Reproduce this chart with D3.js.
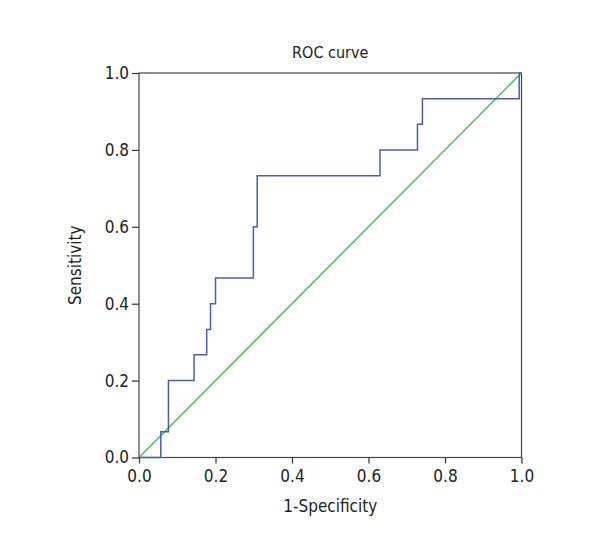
<!DOCTYPE html>
<html>
<head>
<meta charset="utf-8">
<script src="https://cdn.jsdelivr.net/npm/d3@7"></script>
<style>
  body { margin: 0; background: #fff; }
  text { font-family: "DejaVu Sans Condensed", "DejaVu Sans", sans-serif; font-stretch: condensed; fill: #222; }
</style>
</head>
<body>
<svg id="chart" width="600" height="560"></svg>
<script>
// ROC curve step points (1-Specificity, Sensitivity)
const fpr = [0, 0.057, 0.077, 0.144, 0.177, 0.187, 0.200, 0.299, 0.309, 0.630, 0.728, 0.741, 0.994, 1.0];
const tpr = [0, 0.067, 0.200, 0.267, 0.333, 0.400, 0.467, 0.600, 0.733, 0.800, 0.867, 0.933, 1.000, 1.0];
const refX = [0, 1];
const refY = [0, 1];
const ticks = [0, 0.2, 0.4, 0.6, 0.8, 1.0];

const svg = d3.select("#chart");
const mLeft = 139, mTop = 73, pw = 382.5, ph = 384.5;
const x = d3.scaleLinear().domain([0, 1]).range([mLeft, mLeft + pw]);
const y = d3.scaleLinear().domain([0, 1]).range([mTop + ph, mTop]);
const FONT = '"DejaVu Sans Condensed", "DejaVu Sans", sans-serif';

// frame
svg.append("rect")
  .attr("x", mLeft).attr("y", mTop).attr("width", pw).attr("height", ph)
  .attr("fill", "none").attr("stroke", "#444").attr("stroke-width", 1.2);

// reference diagonal
svg.append("path")
  .datum(refX.map((v, i) => [v, refY[i]]))
  .attr("d", d3.line().x(d => x(d[0])).y(d => y(d[1])))
  .attr("fill", "none").attr("stroke", "#5cb55a").attr("stroke-width", 1.5);

// ROC curve
svg.append("path")
  .datum(fpr.map((v, i) => [v, tpr[i]]))
  .attr("d", d3.line().x(d => x(d[0])).y(d => y(d[1])).curve(d3.curveStepAfter))
  .attr("fill", "none").attr("stroke", "#4a5fae").attr("stroke-width", 1.5);

// axes
const xAxis = svg.append("g").attr("transform", `translate(0,${mTop + ph})`)
  .call(d3.axisBottom(x).tickValues(ticks).tickFormat(d3.format(".1f")).tickSize(6).tickPadding(6));
const yAxis = svg.append("g").attr("transform", `translate(${mLeft},0)`)
  .call(d3.axisLeft(y).tickValues(ticks).tickFormat(d3.format(".1f")).tickSize(7).tickPadding(3));
[xAxis, yAxis].forEach(g => {
  g.select(".domain").remove();
  g.selectAll(".tick line").attr("stroke", "#333").attr("stroke-width", 1.2);
  g.selectAll(".tick text").attr("font-size", 17).attr("fill", "#222")
    .style("font-family", FONT).style("font-stretch", "condensed");
});

// title and labels
svg.append("text").attr("x", mLeft + pw / 2).attr("y", 58)
  .attr("text-anchor", "middle").attr("font-size", 16).text("ROC curve");
svg.append("text").attr("x", mLeft + pw / 2).attr("y", 512)
  .attr("text-anchor", "middle").attr("font-size", 17).text("1-Specificity");
svg.append("text").attr("transform", `translate(81,${mTop + ph / 2}) rotate(-90)`)
  .attr("text-anchor", "middle").attr("font-size", 17).text("Sensitivity");
</script>
</body>
</html>
